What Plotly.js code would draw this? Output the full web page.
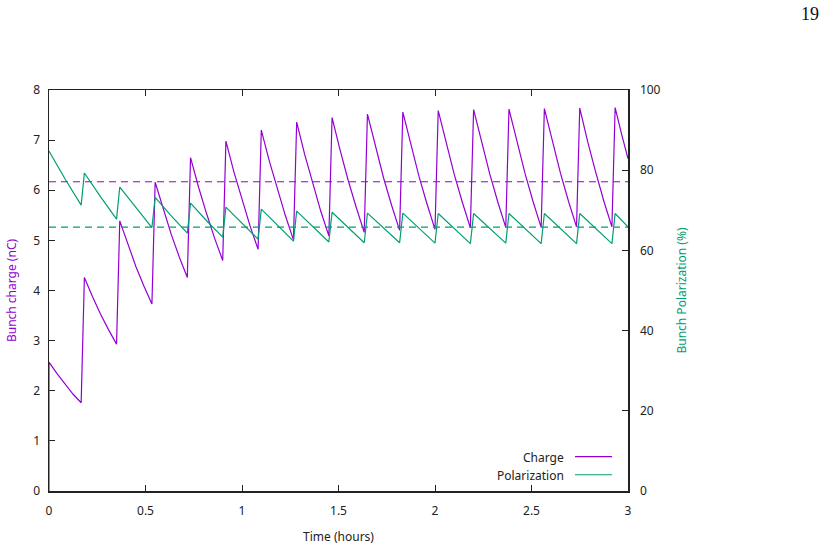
<!DOCTYPE html>
<html>
<head>
<meta charset="utf-8">
<script src="https://cdn.plot.ly/plotly-3.0.1.min.js"></script>
<style>
  html, body { margin: 0; padding: 0; background: #fff; }
  #chart { width: 827px; height: 551px; }
</style>
</head>
<body>
<div id="chart"></div>
<script>
// Injection cycle: 10 min decay followed by 1 min refill. Times in minutes.
const chargeTimeMin = [
  0,
  0, 2.5, 5, 7.5, 10,        11, 13.5, 16, 18.5, 21,
  22, 24.5, 27, 29.5, 32,    33, 35.5, 38, 40.5, 43,
  44, 46.5, 49, 51.5, 54,    55, 57.5, 60, 62.5, 65,
  66, 68.5, 71, 73.5, 76,    77, 79.5, 82, 84.5, 87,
  88, 90.5, 93, 95.5, 98,    99, 101.5, 104, 106.5, 109,
  110, 112.5, 115, 117.5, 120,   121, 123.5, 126, 128.5, 131,
  132, 134.5, 137, 139.5, 142,   143, 145.5, 148, 150.5, 153,
  154, 156.5, 159, 161.5, 164,   165, 167.5, 170, 172.5, 175,
  176, 178, 180
];

// Bunch charge (nC); the ring starts empty at t = 0
const chargeNC = [
  0,
  2.57, 2.34, 2.13, 1.93, 1.76,   4.26, 3.88, 3.53, 3.22, 2.93,
  5.39, 4.92, 4.48, 4.09, 3.73,   6.16, 5.62, 5.12, 4.67, 4.26,
  6.65, 6.06, 5.53, 5.04, 4.60,   6.98, 6.36, 5.80, 5.29, 4.82,
  7.20, 6.58, 6.01, 5.49, 5.01,   7.36, 6.71, 6.12, 5.58, 5.09,
  7.45, 6.80, 6.20, 5.66, 5.16,   7.52, 6.86, 6.25, 5.70, 5.20,
  7.56, 6.89, 6.28, 5.73, 5.22,   7.59, 6.92, 6.31, 5.76, 5.25,
  7.61, 6.94, 6.33, 5.77, 5.26,   7.62, 6.95, 6.33, 5.77, 5.26,
  7.63, 6.96, 6.34, 5.78, 5.27,   7.64, 6.96, 6.35, 5.78, 5.27,
  7.65, 7.12, 6.63
];

const polarizationTimeMin = [
  0, 5, 10,   11, 16, 21,   22, 27, 32,   33, 38, 43,
  44, 49, 54, 55, 60, 65,   66, 71, 76,   77, 82, 87,
  88, 93, 98, 99, 104, 109, 110, 115, 120, 121, 126, 131,
  132, 137, 142, 143, 148, 153, 154, 159, 164, 165, 170, 175,
  176, 180
];

// Bunch polarization (%)
const polarizationPct = [
  84.8, 77.8, 71.3,   79.3, 73.4, 67.8,   75.8, 70.6, 65.7,   73.2, 68.6, 64.3,
  71.8, 67.4, 63.3,   70.8, 66.7, 62.8,   70.3, 66.2, 62.3,   69.8, 65.85, 62.1,
  69.5, 65.6, 61.9,   69.3, 65.5, 61.9,   69.3, 65.45, 61.8, 69.2, 65.35, 61.7,
  69.2, 65.4, 61.8,   69.2, 65.35, 61.7,  69.2, 65.35, 61.7, 69.2, 65.35, 61.7,
  69.2, 65.9
];

// Time-averaged reference levels
const meanChargeNC = 6.17;
const meanPolarizationPct = 65.8;
const timeRangeH = [0, 3];

const PURPLE = '#9400d3';
const GREEN = '#009e73';
const INK = '#222222';
const FONT = 'Noto Sans, Open Sans, DejaVu Sans, sans-serif';

const toHours = arr => arr.map(m => m / 60);

const traces = [
  {
    x: timeRangeH, y: [meanChargeNC, meanChargeNC],
    type: 'scatter', mode: 'lines', name: 'Mean charge',
    line: { color: PURPLE, width: 1.1, dash: '7px,5px' }, yaxis: 'y'
  },
  {
    x: timeRangeH, y: [meanPolarizationPct, meanPolarizationPct],
    type: 'scatter', mode: 'lines', name: 'Mean polarization',
    line: { color: GREEN, width: 1.1, dash: '7px,5px' }, yaxis: 'y2'
  },
  {
    x: toHours(chargeTimeMin), y: chargeNC,
    type: 'scatter', mode: 'lines', name: 'Charge',
    line: { color: PURPLE, width: 1.2 }, yaxis: 'y', cliponaxis: false
  },
  {
    x: toHours(polarizationTimeMin), y: polarizationPct,
    type: 'scatter', mode: 'lines', name: 'Polarization',
    line: { color: GREEN, width: 1.2 }, yaxis: 'y2'
  }
];

// Hand-built key in the lower right corner (text, then line sample)
const key = [
  { label: 'Charge', color: PURPLE, y: 0.0835 },
  { label: 'Polarization', color: GREEN, y: 0.0385 }
];

const annotations = key.map(k => ({
  xref: 'paper', yref: 'paper', x: 0.893, y: k.y,
  xanchor: 'right', yanchor: 'middle', showarrow: false,
  text: k.label, font: { family: FONT, size: 12, color: INK }
}));
annotations.push({
  xref: 'paper', yref: 'paper', x: 1.3143, y: 1.19,
  xanchor: 'center', yanchor: 'middle', showarrow: false,
  text: '19', font: { family: 'Liberation Serif, Times New Roman, serif', size: 18, color: '#111' }
});

const shapes = key.map(k => ({
  type: 'line', xref: 'paper', yref: 'paper',
  x0: 0.9085, x1: 0.9725, y0: k.y + 0.002, y1: k.y + 0.002,
  line: { color: k.color, width: 1.2 }
}));

const axisCommon = {
  showgrid: false, zeroline: false, showline: true,
  linecolor: INK, linewidth: 1.5, layer: 'below traces',
  ticks: 'inside', ticklen: 6, tickwidth: 1, tickcolor: INK,
  tickfont: { family: FONT, size: 12, color: INK }
};

const layout = {
  width: 827, height: 551,
  margin: { l: 49, r: 199, t: 90, b: 60 },
  paper_bgcolor: '#fff', plot_bgcolor: '#fff',
  showlegend: false,
  font: { family: FONT, size: 12, color: INK },
  xaxis: Object.assign({}, axisCommon, {
    range: timeRangeH, dtick: 0.5, tick0: 0, mirror: 'ticks',
    ticklabelstandoff: 8,
    title: { text: 'Time (hours)', font: { family: FONT, size: 12, color: INK }, standoff: 14 }
  }),
  yaxis: Object.assign({}, axisCommon, {
    range: [0, 8], dtick: 1, tick0: 0, mirror: true,
    ticklabelstandoff: 5,
    title: { text: 'Bunch charge (nC)', font: { family: FONT, size: 12, color: PURPLE }, standoff: 14 }
  }),
  yaxis2: Object.assign({}, axisCommon, {
    range: [0, 100], dtick: 20, tick0: 0,
    overlaying: 'y', side: 'right', anchor: 'x',
    ticklabelstandoff: 8,
    title: { text: 'Bunch Polarization (%)', font: { family: FONT, size: 12, color: GREEN }, standoff: 18 }
  }),
  annotations: annotations,
  shapes: shapes
};

Plotly.newPlot('chart', traces, layout, { displayModeBar: false, staticPlot: true });
</script>
</body>
</html>
